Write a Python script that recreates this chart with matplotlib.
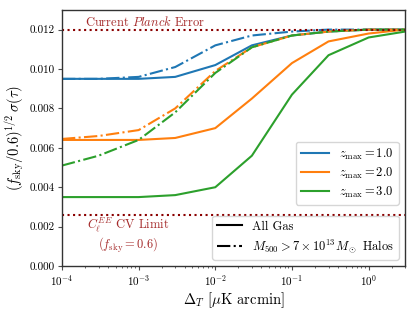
import numpy as np
import matplotlib
matplotlib.use("Agg")
import matplotlib.pyplot as plt
from matplotlib.lines import Line2D

plt.rcParams['font.family'] = 'serif'
plt.rcParams['font.serif'] = ['cmr10']
plt.rcParams['mathtext.fontset'] = 'cm'
plt.rcParams['axes.formatter.use_mathtext'] = True
plt.rcParams['axes.unicode_minus'] = False

noise = [1e-4, 3e-4, 1e-3, 3e-3, 1e-2, 3e-2, 1e-1, 3e-1, 1.0, 3.0]
zmax = [1.0, 2.0, 3.0]

# all gas
sig_all = [
    [0.0095, 0.0095, 0.0095, 0.0096, 0.0102, 0.0112, 0.0117, 0.0119, 0.0120, 0.0120],
    [0.0064, 0.0064, 0.0064, 0.0065, 0.0070, 0.0085, 0.0103, 0.0114, 0.0118, 0.0120],
    [0.0035, 0.0035, 0.0035, 0.0036, 0.0040, 0.0056, 0.0087, 0.0107, 0.0116, 0.0119],
]
# massive halos only
sig_halo = [
    [0.0095, 0.0095, 0.0096, 0.0101, 0.0112, 0.0117, 0.0119, 0.0120, 0.0120, 0.0120],
    [0.00645, 0.0066, 0.0069, 0.0080, 0.0099, 0.0111, 0.0117, 0.0119, 0.0120, 0.0120],
    [0.0051, 0.0056, 0.0064, 0.0078, 0.0098, 0.0111, 0.0117, 0.0119, 0.0120, 0.0120],
]

planck_err = 0.012
cv_limit = 0.00258

colors = ['C0', 'C1', 'C2']
red = '#a52a2a'

fig, ax = plt.subplots(figsize=(4.16, 3.09), dpi=100)

for i in range(3):
    ax.plot(noise, sig_all[i], color=colors[i], lw=1.5, label=r'$z_{\rm max}=%.1f$' % zmax[i])
    ax.plot(noise, sig_halo[i], color=colors[i], lw=1.5, ls='-.')

ax.axhline(planck_err, color='darkred', ls=':', lw=1.5)
ax.axhline(cv_limit, color='darkred', ls=':', lw=1.5)

ax.text(2.0e-4, 0.0124, r'Current $\it{Planck}$ Error', color=red, fontsize=9, va='center')
ax.text(7.3e-4, 0.00157, r'$C_\ell^{EE}$ CV Limit' + '\n' + r'$(f_{\rm sky}=0.6)$',
        color=red, fontsize=9, ha='center', va='center', linespacing=1.2)

ax.set_xscale('log')
ax.set_xlim(1e-4, 3)
ax.set_ylim(0, 0.013)
yt = np.arange(0, 0.0121, 0.002)
ax.set_yticks(yt)
ax.set_yticklabels(['%.3f' % v for v in yt])
ax.tick_params(labelsize=8, length=3, width=0.8, pad=2, color='0.3')
ax.tick_params(which='minor', length=1.5, width=0.6, color='0.3')
for s in ax.spines.values():
    s.set_color('0.2')
    s.set_linewidth(1.0)
ax.set_xlabel(r'$\Delta_T$ [$\mu$K arcmin]', fontsize=10.5, labelpad=2)
ax.set_ylabel(r'$(f_{\rm sky}/0.6)^{1/2}\,\sigma(\tau)$', fontsize=10.5, labelpad=3)

leg1 = ax.legend(loc='lower right', bbox_to_anchor=(1.0, 0.215), fontsize=9,
                 labelspacing=0.3, handlelength=2.3)
ax.add_artist(leg1)
handles = [Line2D([], [], color='k', lw=1.5, ls='-'),
           Line2D([], [], color='k', lw=1.5, ls='-.')]
ax.legend(handles, ['All Gas', r'$M_{500} > 7\times10^{13}M_\odot$ Halos'],
          loc='lower right', fontsize=9, labelspacing=0.35)

fig.subplots_adjust(left=0.149, right=0.974, top=0.968, bottom=0.139)
fig.savefig('out.png', dpi=100)
